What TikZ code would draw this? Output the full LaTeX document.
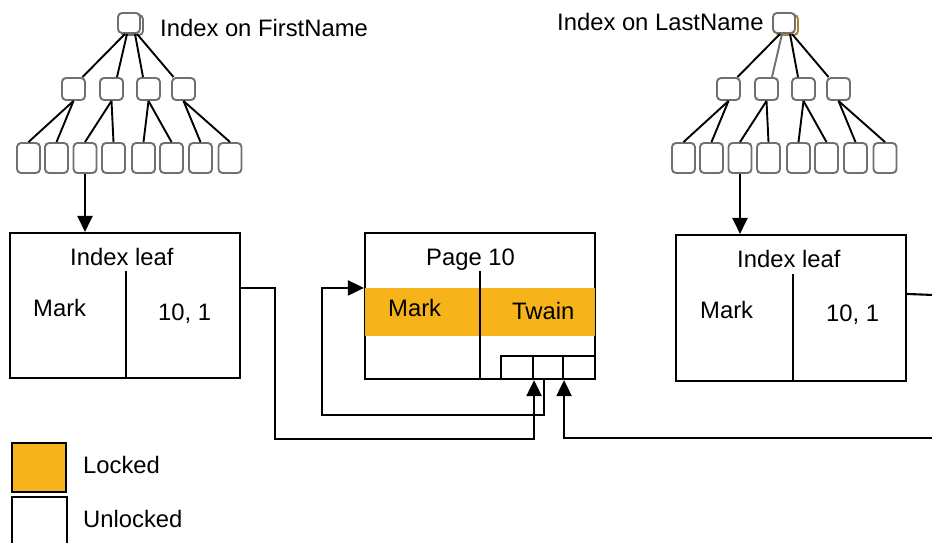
\documentclass[tikz,border=0pt]{standalone}
\usepackage{fontspec}
\setmainfont{Liberation Sans}
\usetikzlibrary{arrows.meta,calc}
\definecolor{lockc}{RGB}{246,180,26}
\definecolor{tgray}{RGB}{112,112,112}
\definecolor{sgold}{RGB}{170,130,40}
\tikzset{
 tbox/.style={draw=tgray, line width=1.9pt, rounded corners=4pt, fill=white, inner sep=0pt},
 tedge/.style={line width=1.9pt, black},
 bigbox/.style={draw, line width=2.1pt, inner sep=0pt},
 arr/.style={line width=2.1pt, -{Triangle[length=16pt,width=15pt]}},
 wire/.style={line width=2.1pt},
 lbl/.style={anchor=base west, inner sep=0pt, font=\fontsize{23.8}{28}\selectfont},
}
\newcommand\idxtree[4]{% prefix, dx, shadow colour, second edge colour
 \node[tbox, draw=#3, minimum width=22pt, minimum height=20pt] (#1rs) at (#2+132,25) {};
 \node[tbox, minimum width=22pt, minimum height=20pt] (#1r) at (#2+129,23) {};
 \foreach \i/\x in {1/73.5,2/111.5,3/148.5,4/183.5}
   \node[tbox, minimum width=23pt, minimum height=22pt] (#1m\i) at (#2+\x,89) {};
 \foreach \i/\x in {1/28.5,2/56.5,3/85,4/113.5,5/143.5,6/171.5,7/200.5,8/230}
   \node[tbox, minimum width=23pt, minimum height=30pt] (#1l\i) at (#2+\x,158) {};
 \draw[tedge] ($(#1r.south)+(-4,0)$) -- ($(#1m1.north)+(9,0)$);
 \draw[tedge, draw=#4] ($(#1r.south)+(-2,0)$) -- ($(#1m2.north)+(5.5,0)$);
 \draw[tedge] ($(#1r.south)+(6,0)$) -- ($(#1m3.north)+(-5.5,0)$);
 \draw[tedge] ($(#1r.south)+(8,0)$) -- ($(#1m4.north)+(-10,0)$);
 \draw[tedge] (#1m1.south) -- (#1l1.north);
 \draw[tedge] (#1m1.south) -- (#1l2.north);
 \draw[tedge] (#1m2.south) -- (#1l3.north);
 \draw[tedge] (#1m2.south) -- (#1l4.north);
 \draw[tedge] (#1m3.south) -- (#1l5.north);
 \draw[tedge] (#1m3.south) -- (#1l6.north);
 \draw[tedge] (#1m4.south) -- (#1l7.north);
 \draw[tedge] (#1m4.south) -- (#1l8.north);
}
\begin{document}
\begin{tikzpicture}[x=1pt,y=-1pt]
\useasboundingbox (0,0) rectangle (932,542);
\fill[white] (0,0) rectangle (932,542);

% trees
\idxtree{A}{0}{tgray}{black}
\idxtree{B}{655}{sgold}{tgray}
\node[lbl] (tA) at (160,36) {Index on FirstName};
\node[lbl] (tB) at (557,30) {Index on LastName};

% index leaf left
\node[bigbox, minimum width=230pt, minimum height=145pt] (li) at (125,305.5) {};
\draw[wire] ($(li.south)+(1,0)$) -- ++(0,-108);
\node[lbl] (liT) at (70,265) {Index leaf};
\node[lbl] (liM) at (33,316) {Mark};
\node[lbl] (liN) at (158,320) {10, 1};

% index leaf right
\node[bigbox, minimum width=230pt, minimum height=146pt] (ri) at (791,308) {};
\draw[wire] ($(ri.south)+(2,0)$) -- ++(0,-108);
\node[lbl] (riT) at (737,267) {Index leaf};
\node[lbl] (riM) at (700,318) {Mark};
\node[lbl] (riN) at (826,321) {10, 1};

% page 10
\node[bigbox, minimum width=230pt, minimum height=146pt] (pg) at (480,306) {};
\fill[lockc] ($(pg.north west)+(1,56)$) rectangle ($(pg.north east)+(-1,104)$);
\draw[wire] ($(pg.south)+(0,0)$) -- ++(0,-109);
\node[lbl] (pgT) at (426,265) {Page 10};
\node[lbl] (pgM) at (388,316) {Mark};
\node[lbl] (pgN) at (512,319) {Twain};
\node[bigbox, fill=white, minimum width=32pt, minimum height=23pt] (s1) at (517,367.5) {};
\node[bigbox, fill=white, minimum width=30pt, minimum height=23pt] (s2) at (548,367.5) {};
\node[bigbox, fill=white, minimum width=32pt, minimum height=23pt] (s3) at (579,367.5) {};

% arrows from leaves to index leaves
\draw[arr] (Al3.south) -- (li.north -| Al3.south);
\draw[arr] (Bl3.south) -- (ri.north -| Bl3.south);

% connectors
\draw[arr] ($(li.north east)+(0,56)$) -- ++(34,0) |- ($(s1.south east)+(0,59)$) -- (s1.south east);
\draw[arr] ($(s2.south west)+(12,0)$) -- ++(0,35) -| ($(pg.north west)+(-42,56)$) -- ($(pg.north west)+(0,56)$);
\coordinate (rin) at (934,438);
\draw[arr] (rin) -| (s2.south east);
\coordinate (rout) at (934,295);
\draw[wire] ($(ri.north east)+(0,60)$) -- (rout);

% legend
\node[bigbox, fill=lockc, minimum width=54pt, minimum height=49pt] (lgL) at (39,467.5) {};
\node[bigbox, fill=white, minimum width=55pt, minimum height=52pt] (lgU) at (39.5,523) {};
\node[lbl] (lgLt) at (83,473) {Locked};
\node[lbl] (lgUt) at (83,527) {Unlocked};
\end{tikzpicture}
\end{document}
